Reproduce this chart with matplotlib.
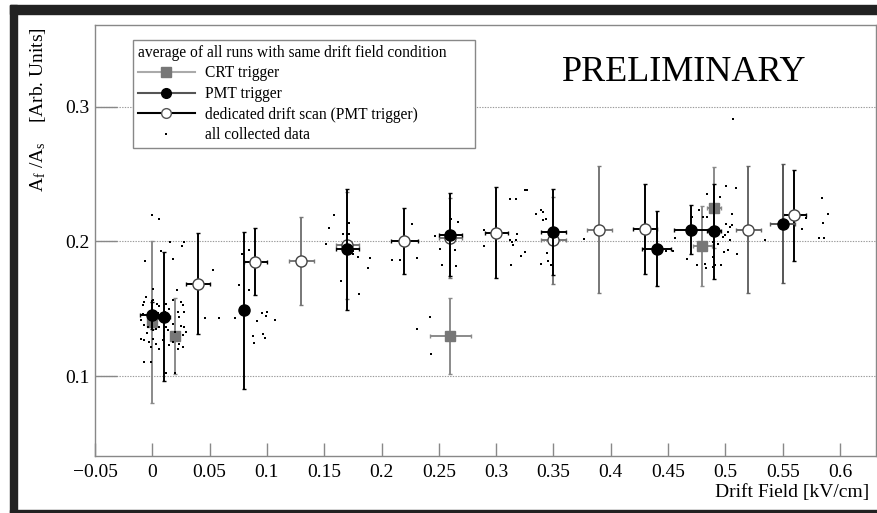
import matplotlib
matplotlib.use("Agg")
import matplotlib.pyplot as plt
import numpy as np
from matplotlib.lines import Line2D
from matplotlib.patches import Rectangle
from matplotlib.ticker import FuncFormatter

plt.rcParams['font.family'] = ['Liberation Serif', 'DejaVu Serif']
plt.rcParams['mathtext.fontset'] = 'custom'
plt.rcParams['mathtext.rm'] = 'Liberation Serif'
plt.rcParams['mathtext.it'] = 'Liberation Serif:italic'

# CRT trigger averages
crt_x = [0.0, 0.02, 0.26, 0.48, 0.49]
crt_y = [0.140, 0.1297, 0.1297, 0.1965, 0.225]
crt_yerr = [0.060, 0.028, 0.028, 0.030, 0.030]
crt_xerr = [0.0, 0.0, 0.018, 0.008, 0.006]

# PMT trigger averages
pmt_x = [0.0, 0.01, 0.08, 0.17, 0.26, 0.35, 0.44, 0.47, 0.49, 0.55]
pmt_y = [0.145, 0.144, 0.1487, 0.194, 0.205, 0.2069, 0.1946, 0.2087, 0.2074, 0.2131]
pmt_yerr = [0.010, 0.048, 0.058, 0.045, 0.031, 0.032, 0.028, 0.018, 0.035, 0.044]
pmt_xerr = [0.011, 0.005, 0.0, 0.010, 0.010, 0.011, 0.0125, 0.0145, 0.006, 0.011]

# dedicated drift scan (PMT trigger)
scan_x = [0.04, 0.09, 0.13, 0.17, 0.22, 0.26, 0.30, 0.35, 0.39, 0.43, 0.52, 0.56]
scan_y = [0.1686, 0.185, 0.1854, 0.197, 0.2002, 0.2025, 0.2065, 0.2007, 0.2087, 0.2094, 0.2087, 0.2193]
scan_yerr = [0.0377, 0.025, 0.0328, 0.040, 0.0248, 0.030, 0.034, 0.032, 0.047, 0.0334, 0.047, 0.034]
scan_xerr = [0.0105, 0.010, 0.011, 0.010, 0.0115, 0.010, 0.010, 0.011, 0.011, 0.0105, 0.011, 0.010]

# all collected data (single runs)
dots_x = [0.0, 0.0055, -0.0064, 0.0155, 0.0274, 0.026, 0.0177, 0.0076,
          0.0212, 0.0177, 0.025, 0.0271, -0.0055, -0.007, -0.0085, 0.0003, 0.0038, 0.0061,
          0.012, 0.0148, 0.0221, 0.028, 0.0236, -0.0085, -0.0099, -0.007, -0.0041, 0.0003,
          0.0032, 0.0061, 0.012, 0.0134, 0.028, 0.0294, 0.0265, -0.0099, -0.007, -0.0026,
          0.0003, 0.0032, -0.0011, 0.009, 0.0061, 0.0236, 0.0265, 0.0221, 0.0177, 0.0148,
          -0.007, -0.0011, 0.0003, 0.005, -0.003, 0.018, 0.020, 0.010, -0.005, 0.025,
          0.011, 0.0, 0.012, 0.0195,
          0.0533, 0.046, 0.058, 0.0722, 0.076, 0.078, 0.0847, 0.0847, 0.0958, 0.0993,
          0.0914, 0.0998, 0.1072, 0.0882, 0.0963, 0.0984, 0.0891,
          0.1583, 0.154, 0.1517, 0.172, 0.172, 0.1662, 0.175, 0.1793, 0.1895, 0.1886,
          0.1648, 0.1799, 0.1755,
          0.2093, 0.2157, 0.2268, 0.2312,
          0.2463, 0.2507, 0.2527, 0.2419, 0.2312, 0.2434,
          0.2609, 0.2667, 0.2638, 0.2652, 0.2894, 0.2894,
          0.3118, 0.3176, 0.3249, 0.3269, 0.3118, 0.3141, 0.3147, 0.3182, 0.3176, 0.3127,
          0.322, 0.3249,
          0.3351, 0.3395, 0.341, 0.341, 0.3438, 0.3447, 0.3395, 0.3452, 0.3476, 0.3764,
          0.4559, 0.4486, 0.4544, 0.4661, 0.4705, 0.4748, 0.4771,
          0.4836, 0.4806, 0.4836, 0.4952, 0.5004, 0.5089, 0.5054, 0.5004, 0.5054, 0.5039,
          0.4996, 0.5025, 0.498, 0.4938, 0.4894, 0.5039, 0.4987, 0.5025, 0.5098, 0.4894,
          0.4908, 0.4821, 0.483, 0.4961, 0.4899, 0.4888,
          0.5345, 0.5666, 0.5703, 0.584, 0.5898, 0.5849, 0.5817, 0.5863, 0.5063]
dots_y = [0.2198, 0.2169, 0.1854, 0.1995, 0.1995, 0.1963, 0.1871, 0.1928,
          0.1636, 0.1562, 0.1549, 0.1525, 0.1587, 0.1549, 0.1525, 0.1562, 0.1537, 0.1517,
          0.1537, 0.150, 0.1475, 0.1475, 0.1438, 0.1463, 0.1413, 0.1376, 0.1363, 0.1339,
          0.1351, 0.1363, 0.1363, 0.1339, 0.1363, 0.1326, 0.1302, 0.1277, 0.1264, 0.1252,
          0.1277, 0.124, 0.1215, 0.1264, 0.1203, 0.124, 0.1215, 0.1203, 0.1252, 0.1227,
          0.1103, 0.1103, 0.1648, 0.147, 0.143, 0.139, 0.133, 0.130, 0.132, 0.137,
          0.1475, 0.156, 0.102, 0.102,
          0.1785, 0.1433, 0.143, 0.1433, 0.1673, 0.1903, 0.1938, 0.1641, 0.147, 0.1443,
          0.1408, 0.1473, 0.1413, 0.1294, 0.1314, 0.1285, 0.1244,
          0.2193, 0.2102, 0.1983, 0.2136, 0.2057, 0.2052, 0.1909, 0.1883, 0.1879, 0.1805,
          0.1703, 0.1611, 0.1927,
          0.1864, 0.1864, 0.2131, 0.1879,
          0.2037, 0.1946, 0.1822, 0.1438, 0.1351, 0.116,
          0.2169, 0.2143, 0.1938, 0.1814, 0.1963, 0.2082,
          0.2312, 0.2312, 0.2384, 0.2384, 0.2013, 0.1995, 0.197, 0.2057, 0.2013, 0.1822,
          0.1889, 0.192,
          0.2206, 0.223, 0.2218, 0.2161, 0.2169, 0.1913, 0.1834, 0.1851, 0.1822, 0.202,
          0.2027, 0.1926, 0.1926, 0.1866, 0.2181, 0.1822, 0.2236,
          0.2349, 0.2181, 0.2181, 0.2329, 0.2409, 0.2399, 0.2201, 0.2131, 0.2119, 0.2106,
          0.205, 0.2069, 0.2032, 0.1983, 0.1995, 0.2007, 0.192, 0.1933, 0.1903, 0.1883,
          0.1822, 0.1834, 0.1805, 0.1822, 0.1735, 0.1809,
          0.2013, 0.2094, 0.2176, 0.2325, 0.2206, 0.2139, 0.2027, 0.2027, 0.2906]

# error bar colour per point (style, not data)
crt_bar = ['#8a8a8a'] * len(crt_x)
pmt_bar = ['black'] * 9 + ['#555555']
scan_bar = ['black', 'black', '#777777', '#777777', 'black', '#777777', 'black', '#777777',
            '#777777', 'black', '#666666', 'black']

W, H = 878, 513
fig = plt.figure(figsize=(W / 100, H / 100), dpi=100)
ax = fig.add_axes([95 / W, 57 / H, 781 / W, 431 / H])

# dark screenshot frame
frame_c = '#222222'
fig.add_artist(Rectangle((10 / W, (H - 13.5) / H), 1, 8.5 / H, transform=fig.transFigure, color=frame_c, zorder=0))
fig.add_artist(Rectangle((10 / W, 0), 7 / W, (H - 5) / H, transform=fig.transFigure, color=frame_c, zorder=0))
fig.add_artist(Rectangle((10 / W, 0), 1, 3 / H, transform=fig.transFigure, color=frame_c, zorder=0))

ax.set_xlim(-0.05, 0.6314)
ax.set_ylim(0.0406, 0.3607)

ax.yaxis.grid(True, linestyle=(0, (1.2, 1.2)), color='#9a9a9a', lw=0.8)
ax.set_axisbelow(True)

ax.plot(dots_x, dots_y, 's', color='black', ms=1.8, mew=0, zorder=4)

for i in range(len(crt_x)):
    ax.errorbar(crt_x[i], crt_y[i], yerr=crt_yerr[i], xerr=crt_xerr[i] or None, fmt='s',
                color='#777777', ecolor=crt_bar[i], ms=7.5, elinewidth=1.4, capsize=1.5, zorder=3)
for i in range(len(scan_x)):
    ax.errorbar(scan_x[i], scan_y[i], yerr=scan_yerr[i], xerr=scan_xerr[i], fmt='o',
                mfc='white', mec='#444444', mew=1.0, ecolor=scan_bar[i], ms=8, elinewidth=1.4,
                capsize=1.5, zorder=3)
for i in range(len(pmt_x)):
    ax.errorbar(pmt_x[i], pmt_y[i], yerr=pmt_yerr[i], xerr=pmt_xerr[i] or None, fmt='o',
                color='black', ecolor=pmt_bar[i], ms=8, elinewidth=1.4, capsize=1.5, zorder=5)

ax.set_xticks(np.arange(-0.05, 0.601, 0.05))
ax.set_yticks([0.1, 0.2, 0.3])
fmt = FuncFormatter(lambda v, p: ('%g' % round(v, 3)).replace('-', '\u2212'))
ax.xaxis.set_major_formatter(fmt)
ax.yaxis.set_major_formatter(fmt)
ax.tick_params(axis='both', direction='in', color='#888888', width=1, labelsize=14)
ax.tick_params(axis='x', length=9.5, pad=6)
ax.tick_params(axis='y', length=16, pad=4)
for s in ax.spines.values():
    s.set_color('#888888')
    s.set_linewidth(1)

fig.text(869 / W, 1 - 493 / H, 'Drift Field [kV/cm]', ha='right', va='center', fontsize=14)
fig.text(38 / W, 1 - 27 / H, r'A$_\mathrm{f}$ /A$_\mathrm{s}$    [Arb. Units]', rotation=90,
         ha='center', va='top', fontsize=14)
fig.text(684 / W, 1 - 81 / H, 'PRELIMINARY', ha='center', va='baseline', fontsize=26)

handles = [
    Line2D([], [], color='#aaaaaa', lw=1.5, marker='s', mfc='#777777', mec='#777777', ms=7),
    Line2D([], [], color='#555555', lw=1.5, marker='o', mfc='black', mec='black', ms=7),
    Line2D([], [], color='black', lw=1.5, marker='o', mfc='white', mec='#555555', ms=7),
    Line2D([], [], ls='none', marker='s', color='black', ms=1.8, mew=0),
]
labels = ['CRT trigger', 'PMT trigger', 'dedicated drift scan (PMT trigger)', 'all collected data']
leg = ax.legend(handles, labels, loc='upper left',
                bbox_to_anchor=(38 / 781, 1 - 15 / 431 - 0.3, 342 / 781, 0.3), mode='expand',
                fontsize=11.2, title='average of all runs with same drift field condition',
                title_fontsize=11.2, alignment='left', fancybox=False, framealpha=1,
                edgecolor='#888888', handlelength=3.7, handletextpad=0.64, labelspacing=0.3,
                borderpad=0.3, borderaxespad=0)
leg.get_frame().set_linewidth(1)

fig.savefig('out.png', dpi=100)
